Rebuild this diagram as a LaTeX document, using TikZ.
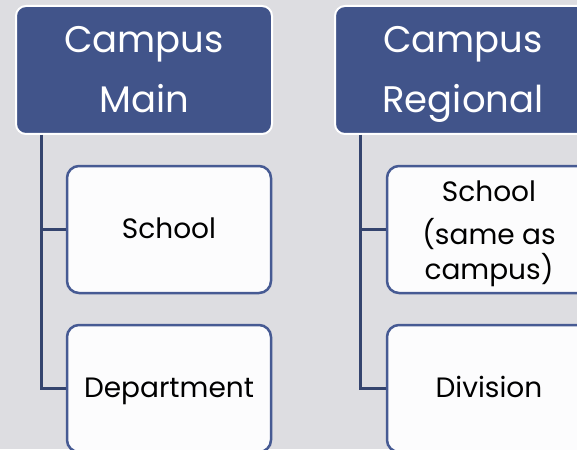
\documentclass[tikz,border=0pt]{standalone}
\usepackage{fontspec}
\setmainfont{Poppins}
\definecolor{bgc}{HTML}{DDDDE1}
\definecolor{headc}{HTML}{41548A}
\definecolor{linec}{HTML}{34446E}
\definecolor{boxc}{HTML}{465A93}
\definecolor{boxf}{HTML}{FCFCFD}
\newcommand{\dph}{\vphantom{Sgp()}}
\tikzset{
  headbox/.style={draw=white, line width=2pt, fill=headc, rounded corners=10pt,
    minimum width=256pt, minimum height=128pt, text=white, align=center,
    inner sep=0pt, font=\fontsize{37}{60}\selectfont},
  childbox/.style={draw=boxc, line width=2.5pt, fill=boxf, rounded corners=12pt,
    minimum width=204pt, minimum height=127pt, text=black, align=center,
    inner sep=0pt, font=\fontsize{28}{31}\selectfont},
  conn/.style={draw=linec, line width=3pt}
}
\begin{document}
\begin{tikzpicture}[x=1pt,y=-1pt]
\useasboundingbox[fill=bgc] (0,0) rectangle (577,449);
\begin{scope}
\clip (0,0) rectangle (577,449);
\node[headbox] (hL) at (144,70) {\dph Campus\\Main\dph};
\node[headbox] (hR) at (463,70) {\dph Campus\\Regional\dph};
\node[childbox] (sL) at (169,229.5) {\dph School\dph};
\node[childbox] (dL) at (169,388.5) {\dph Department\dph};
\node[childbox] (sR) at (489,229.5) {\raisebox{3pt}{\dph}School\\[12pt]\dph (same as\\campus)\dph};
\node[childbox] (dR) at (489,388.5) {\dph Division\dph};
\draw[conn] ([xshift=26pt]hL.south west) |- (sL.west);
\draw[conn] ([xshift=26pt]hL.south west) |- (dL.west);
\draw[conn] ([xshift=26pt]hR.south west) |- (sR.west);
\draw[conn] ([xshift=26pt]hR.south west) |- (dR.west);
\end{scope}
\end{tikzpicture}
\end{document}
